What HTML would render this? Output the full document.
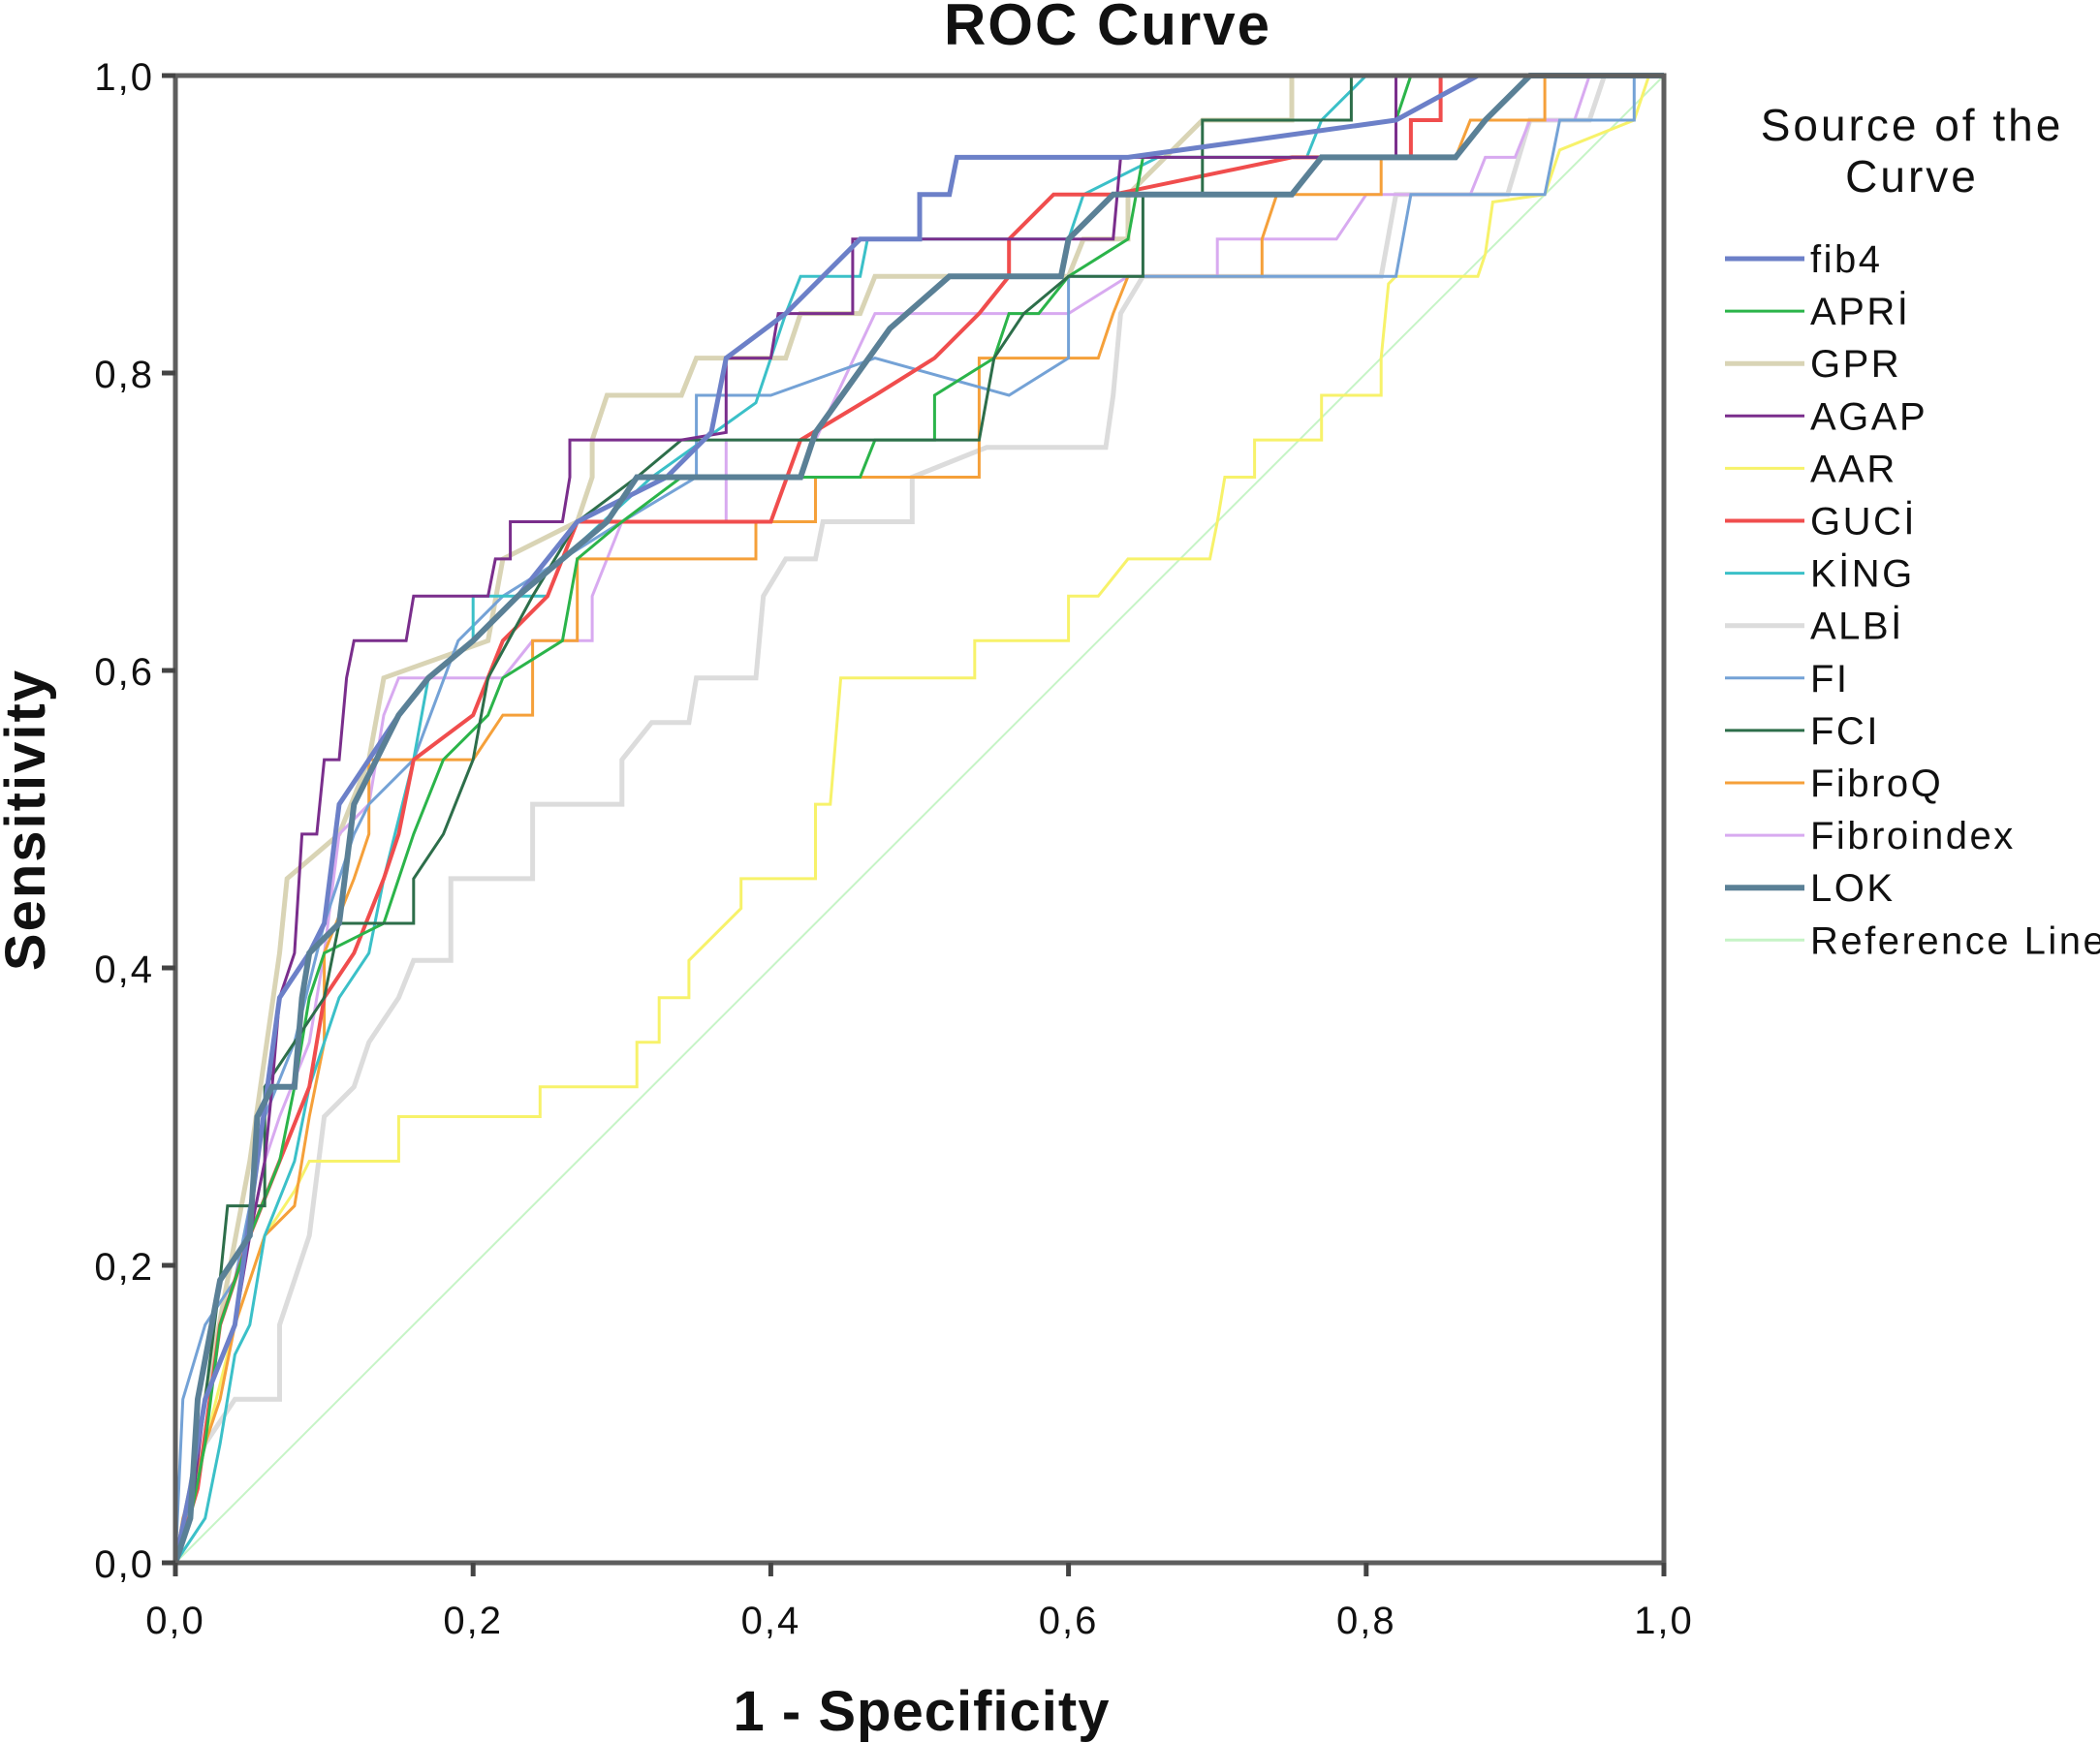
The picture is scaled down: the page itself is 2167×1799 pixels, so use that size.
<!DOCTYPE html>
<html><head><meta charset="utf-8"><style>
html,body{margin:0;padding:0;background:#fff}
svg{display:block}
text{font-family:"Liberation Sans",Arial,sans-serif}
</style></head><body>
<svg id="chart" width="2167" height="1799" viewBox="0 0 2167 1799" xmlns="http://www.w3.org/2000/svg">
<rect width="2167" height="1799" fill="#fff"/>
<text x="1143" y="46" font-size="60" font-weight="bold" letter-spacing="2" text-anchor="middle" fill="#111">ROC Curve</text>
<text x="951" y="1786" font-size="58" font-weight="bold" letter-spacing="1" text-anchor="middle" fill="#111">1 - Specificity</text>
<text transform="translate(46,846) rotate(-90)" font-size="58" font-weight="bold" letter-spacing="2" text-anchor="middle" fill="#111">Sensitivity</text>
<g id="plot"></g>
<g id="axes"></g>
<g id="legend">
<text x="1973" y="145" font-size="46" letter-spacing="3" text-anchor="middle" fill="#111">Source of the</text>
<text x="1973" y="198" font-size="46" letter-spacing="3" text-anchor="middle" fill="#111">Curve</text>
</g>
</svg>
<script>
const seriesNames=["fib4","APRİ","GPR","AGAP","AAR","GUCİ","KİNG","ALBİ","FI","FCI","FibroQ","Fibroindex","LOK"];
const seriesColors=["#6c80c8","#2bb44a","#d9d4b5","#7a2e8c","#f7f26a","#f04d4d","#3bc0c8","#dcdcdc","#74a2d6","#2d6e4a","#f5a03a","#d8aaf0","#5a8096"];
const seriesWidths=[5,3,5,3,3,4,3,5,3,3,3,3,6];
const xTicks=[0,0.2,0.4,0.6,0.8,1.0];
const xTickLabels=["0,0","0,2","0,4","0,6","0,8","1,0"];
const yTicks=[0,0.2,0.4,0.6,0.8,1.0];
const yTickLabels=["0,0","0,2","0,4","0,6","0,8","1,0"];
const fib4=[[0,0],[0.01,0.05],[0.02,0.11],[0.04,0.16],[0.055,0.27],[0.07,0.38],[0.09,0.41],[0.1,0.43],[0.11,0.51],[0.13,0.54],[0.15,0.57],[0.17,0.595],[0.2,0.62],[0.23,0.65],[0.25,0.675],[0.27,0.70],[0.33,0.73],[0.36,0.76],[0.37,0.81],[0.41,0.84],[0.46,0.89],[0.5,0.89],[0.5,0.92],[0.52,0.92],[0.525,0.945],[0.64,0.945],[0.82,0.97],[0.875,1],[1,1]];
const apri=[[0,0],[0.01,0.03],[0.02,0.08],[0.03,0.16],[0.05,0.22],[0.07,0.27],[0.08,0.32],[0.09,0.38],[0.1,0.41],[0.14,0.43],[0.16,0.49],[0.18,0.54],[0.21,0.57],[0.22,0.595],[0.26,0.62],[0.27,0.675],[0.3,0.70],[0.34,0.73],[0.46,0.73],[0.47,0.755],[0.51,0.755],[0.51,0.785],[0.55,0.81],[0.56,0.84],[0.58,0.84],[0.6,0.865],[0.64,0.89],[0.65,0.945],[0.82,0.945],[0.82,0.97],[0.83,1],[1,1]];
const gpr=[[0,0],[0.01,0.05],[0.02,0.11],[0.035,0.19],[0.05,0.27],[0.07,0.41],[0.075,0.46],[0.11,0.49],[0.13,0.54],[0.14,0.595],[0.21,0.62],[0.22,0.675],[0.27,0.70],[0.28,0.73],[0.28,0.755],[0.29,0.785],[0.34,0.785],[0.35,0.81],[0.41,0.81],[0.42,0.84],[0.46,0.84],[0.47,0.865],[0.6,0.865],[0.61,0.89],[0.64,0.89],[0.64,0.92],[0.69,0.97],[0.75,0.97],[0.75,1],[1,1]];
const agap=[[0,0],[0.01,0.03],[0.02,0.11],[0.04,0.16],[0.05,0.22],[0.06,0.27],[0.065,0.32],[0.07,0.38],[0.08,0.41],[0.085,0.49],[0.095,0.49],[0.1,0.54],[0.11,0.54],[0.115,0.595],[0.12,0.62],[0.155,0.62],[0.16,0.65],[0.21,0.65],[0.215,0.675],[0.225,0.675],[0.225,0.70],[0.26,0.70],[0.265,0.73],[0.265,0.755],[0.34,0.755],[0.37,0.76],[0.37,0.81],[0.4,0.81],[0.405,0.84],[0.455,0.84],[0.455,0.89],[0.63,0.89],[0.635,0.945],[0.82,0.945],[0.82,1],[1,1]];
const aar=[[0,0],[0.01,0.03],[0.02,0.08],[0.04,0.16],[0.06,0.22],[0.08,0.25],[0.09,0.27],[0.15,0.27],[0.15,0.30],[0.245,0.30],[0.245,0.32],[0.31,0.32],[0.31,0.35],[0.325,0.35],[0.325,0.38],[0.345,0.38],[0.345,0.405],[0.38,0.44],[0.38,0.46],[0.43,0.46],[0.43,0.51],[0.44,0.51],[0.447,0.595],[0.537,0.595],[0.537,0.62],[0.6,0.62],[0.6,0.65],[0.62,0.65],[0.64,0.675],[0.695,0.675],[0.7,0.70],[0.705,0.73],[0.725,0.73],[0.725,0.755],[0.77,0.755],[0.77,0.785],[0.81,0.785],[0.81,0.81],[0.815,0.86],[0.82,0.865],[0.875,0.865],[0.88,0.88],[0.885,0.915],[0.92,0.92],[0.93,0.95],[0.98,0.97],[0.99,1],[1,1]];
const guci=[[0,0],[0.015,0.05],[0.03,0.16],[0.05,0.22],[0.07,0.27],[0.09,0.32],[0.1,0.38],[0.12,0.41],[0.14,0.46],[0.15,0.49],[0.16,0.54],[0.2,0.57],[0.22,0.62],[0.25,0.65],[0.27,0.70],[0.4,0.70],[0.42,0.755],[0.47,0.785],[0.51,0.81],[0.54,0.84],[0.56,0.865],[0.56,0.89],[0.59,0.92],[0.63,0.92],[0.75,0.945],[0.83,0.945],[0.83,0.97],[0.85,0.97],[0.85,1],[1,1]];
const king=[[0,0],[0.02,0.03],[0.03,0.08],[0.04,0.14],[0.05,0.16],[0.06,0.22],[0.08,0.27],[0.09,0.32],[0.1,0.35],[0.11,0.38],[0.13,0.41],[0.14,0.46],[0.16,0.54],[0.17,0.595],[0.2,0.62],[0.2,0.65],[0.25,0.65],[0.26,0.675],[0.32,0.73],[0.39,0.78],[0.41,0.84],[0.42,0.865],[0.46,0.865],[0.465,0.89],[0.6,0.89],[0.61,0.92],[0.66,0.945],[0.76,0.945],[0.77,0.97],[0.8,1],[1,1]];
const albi=[[0,0],[0.01,0.05],[0.02,0.08],[0.04,0.11],[0.07,0.11],[0.07,0.16],[0.08,0.19],[0.09,0.22],[0.1,0.30],[0.12,0.32],[0.13,0.35],[0.15,0.38],[0.16,0.405],[0.185,0.405],[0.185,0.46],[0.24,0.46],[0.24,0.51],[0.3,0.51],[0.3,0.54],[0.32,0.565],[0.345,0.565],[0.35,0.595],[0.39,0.595],[0.395,0.65],[0.41,0.675],[0.43,0.675],[0.435,0.70],[0.495,0.70],[0.495,0.73],[0.545,0.75],[0.625,0.75],[0.63,0.785],[0.635,0.84],[0.65,0.865],[0.81,0.865],[0.82,0.92],[0.895,0.92],[0.91,0.97],[0.95,0.97],[0.96,1],[1,1]];
const fi=[[0,0],[0.005,0.11],[0.02,0.16],[0.04,0.19],[0.05,0.24],[0.06,0.30],[0.08,0.35],[0.1,0.43],[0.12,0.49],[0.13,0.51],[0.16,0.54],[0.19,0.62],[0.22,0.65],[0.3,0.70],[0.35,0.73],[0.35,0.785],[0.4,0.785],[0.47,0.81],[0.56,0.785],[0.6,0.81],[0.6,0.865],[0.82,0.865],[0.83,0.92],[0.92,0.92],[0.93,0.97],[0.98,0.97],[0.98,1],[1,1]];
const fci=[[0,0],[0.01,0.05],[0.02,0.11],[0.03,0.19],[0.035,0.24],[0.06,0.24],[0.06,0.32],[0.1,0.38],[0.11,0.43],[0.16,0.43],[0.16,0.46],[0.18,0.49],[0.2,0.54],[0.21,0.595],[0.24,0.65],[0.27,0.70],[0.31,0.73],[0.34,0.755],[0.54,0.755],[0.55,0.81],[0.57,0.84],[0.6,0.865],[0.65,0.865],[0.65,0.92],[0.69,0.92],[0.69,0.97],[0.79,0.97],[0.79,1],[1,1]];
const fibroq=[[0,0],[0.005,0.03],[0.02,0.08],[0.03,0.11],[0.04,0.16],[0.05,0.19],[0.06,0.22],[0.08,0.24],[0.09,0.30],[0.1,0.35],[0.1,0.41],[0.12,0.46],[0.13,0.49],[0.13,0.54],[0.2,0.54],[0.22,0.57],[0.24,0.57],[0.24,0.62],[0.27,0.62],[0.27,0.675],[0.39,0.675],[0.39,0.70],[0.43,0.70],[0.43,0.73],[0.54,0.73],[0.54,0.81],[0.62,0.81],[0.63,0.84],[0.64,0.865],[0.73,0.865],[0.73,0.89],[0.74,0.92],[0.81,0.92],[0.81,0.945],[0.86,0.945],[0.87,0.97],[0.92,0.97],[0.92,1],[1,1]];
const fibroindex=[[0,0],[0.01,0.05],[0.02,0.11],[0.04,0.16],[0.05,0.22],[0.06,0.27],[0.07,0.30],[0.09,0.35],[0.1,0.41],[0.11,0.49],[0.13,0.51],[0.14,0.57],[0.15,0.595],[0.22,0.595],[0.24,0.62],[0.28,0.62],[0.28,0.65],[0.3,0.70],[0.37,0.70],[0.37,0.755],[0.43,0.755],[0.47,0.84],[0.6,0.84],[0.64,0.865],[0.7,0.865],[0.7,0.89],[0.78,0.89],[0.8,0.92],[0.87,0.92],[0.88,0.945],[0.9,0.945],[0.91,0.97],[0.94,0.97],[0.95,1],[1,1]];
const lok=[[0,0],[0.01,0.03],[0.015,0.11],[0.03,0.19],[0.05,0.22],[0.055,0.30],[0.065,0.32],[0.08,0.32],[0.085,0.38],[0.09,0.41],[0.11,0.43],[0.12,0.51],[0.135,0.54],[0.15,0.57],[0.17,0.595],[0.2,0.62],[0.23,0.65],[0.26,0.675],[0.29,0.70],[0.31,0.73],[0.42,0.73],[0.43,0.76],[0.48,0.83],[0.52,0.865],[0.595,0.865],[0.6,0.89],[0.63,0.92],[0.75,0.92],[0.77,0.945],[0.86,0.945],[0.88,0.97],[0.91,1],[1,1]];
const referenceLine=[[0,0],[1,1]];
const seriesData=[fib4,apri,gpr,agap,aar,guci,king,albi,fi,fci,fibroq,fibroindex,lok];

const NS="http://www.w3.org/2000/svg";
const L=181,R=1717,T=78,B=1613;
function sx(v){return L+v*(R-L);}
function sy(v){return B-v*(B-T);}
function mk(tag,attrs,parent){const e=document.createElementNS(NS,tag);for(const k in attrs)e.setAttribute(k,attrs[k]);parent.appendChild(e);return e;}
const plot=document.getElementById('plot');
const axes=document.getElementById('axes');
const legend=document.getElementById('legend');
function pts(d){return d.map(p=>sx(p[0]).toFixed(1)+','+sy(p[1]).toFixed(1)).join(' ');}
const ref=mk('polyline',{points:pts(referenceLine),fill:'none',stroke:'#c6f4c6','stroke-width':2},plot);


const order=[7,2,11,4,10,8,6,5,1,9,3,0,12];
order.forEach(i=>{
  const pl=mk('polyline',{points:pts(seriesData[i]),fill:'none',stroke:seriesColors[i],'stroke-width':seriesWidths[i],'stroke-linejoin':'miter'},plot);
  
  
});
const fr=mk('rect',{x:L,y:T,width:R-L,height:B-T,fill:'none',stroke:'#5e5e5e','stroke-width':5},axes);


xTicks.forEach((t,i)=>{
  const ln=mk('line',{x1:sx(t),x2:sx(t),y1:B,y2:B+14,stroke:'#444','stroke-width':5},axes);
  
  
  const tx=mk('text',{x:sx(t),y:1686,'font-size':40,'letter-spacing':2,'text-anchor':'middle',fill:'#111'},axes);
  tx.textContent=xTickLabels[i];
  
  
});
yTicks.forEach((t,i)=>{
  const ln=mk('line',{x1:L-14,x2:L,y1:sy(t),y2:sy(t),stroke:'#444','stroke-width':5},axes);
  
  
  const tx=mk('text',{x:L-22,y:sy(t)+15,'font-size':40,'letter-spacing':2,'text-anchor':'end',fill:'#111'},axes);
  tx.textContent=yTickLabels[i];
  
  
});
const legNames=seriesNames.concat(["Reference Line"]);
const legColors=seriesColors.concat(["#c6f4c6"]);
const legWidths=seriesWidths.concat([2]);
legNames.forEach((n,i)=>{
  const y=267+i*54.1;
  const g=mk('g',{},legend);
  
  
  mk('line',{x1:1780,x2:1862,y1:y,y2:y,stroke:legColors[i],'stroke-width':Math.max(3,legWidths[i])},g);
  const tx=mk('text',{x:1868,y:y+14,'font-size':40,'letter-spacing':2.5,fill:'#111'},g);
  tx.textContent=n;
});
</script>
</body></html>
